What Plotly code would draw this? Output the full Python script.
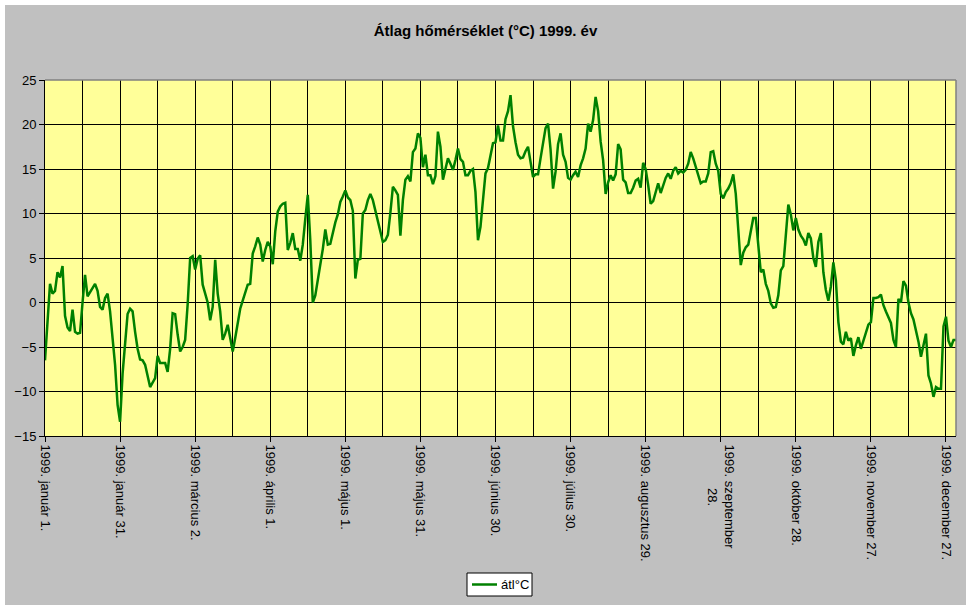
import plotly.graph_objects as go

title_text = "Átlag hőmérséklet (°C) 1999. év"
series_name = "átl°C"

# Daily mean temperatures, 1999
temps = [
    # Jan 1 - Feb 17 (days 0-47)
    -6.5, -2.2, 2.1, 1.0, 1.3, 3.4, 2.8, 4.1, -1.5, -2.8,
    -3.2, -0.8, -3.3, -3.5, -3.4, 0.0, 3.1, 0.7, 1.2, 1.7,
    2.1, 1.3, -0.5, -0.8, 0.5, 1.0, -1.0, -4.0, -7.0, -11.5,
    -13.4, -8.0, -4.5, -1.3, -0.7, -1.0, -3.3, -5.2, -6.4, -6.5,
    -7.0, -8.4, -9.5, -9.0, -8.5, -6.0, -6.8, -6.8,
    # days 48-89
    -6.8, -7.8, -5.2, -1.2, -1.3, -3.6, -5.5, -5.0, -4.2, -0.2,
    5.0, 5.2, 3.7, 4.9, 5.3, 2.0, 1.0, 0.0, -2.0, -0.5,
    4.8, 1.0, -1.0, -4.2, -3.5, -2.5, -4.0, -5.5, -4.0, -2.5,
    -0.7, 0.2, 1.0, 2.0, 2.1, 5.5, 6.3, 7.3, 6.5, 4.6,
    5.9, 6.8,
    # days 90-139
    6.3, 4.3, 8.0, 10.2, 10.8, 11.1, 11.2, 5.9, 6.7, 7.8,
    6.0, 6.0, 4.7, 6.5, 9.4, 12.1, 7.0, 0.0, 0.8, 2.5,
    3.8, 6.0, 8.2, 6.5, 6.6, 8.0, 9.0, 9.9, 11.3, 11.9,
    12.6, 11.8, 11.5, 10.3, 2.7, 4.8, 4.9, 10.0, 10.4, 11.5,
    12.2, 11.5, 10.4, 9.0, 7.9, 6.8, 7.0, 7.6, 10.1, 13.0,
    # days 140-185
    12.6, 12.1, 7.5, 11.5, 13.8, 14.2, 13.6, 16.9, 17.3, 19.0,
    18.5, 15.2, 16.6, 14.3, 14.3, 13.3, 14.2, 19.2, 17.5, 13.8,
    15.0, 16.2, 15.6, 14.9, 16.0, 17.3, 16.1, 15.8, 14.3, 14.3,
    14.8, 15.0, 12.4, 7.0, 8.5, 12.0, 14.5, 15.1, 16.6, 17.9,
    18.0, 19.9, 18.2, 18.2, 20.6, 21.5,
    # days 186-231
    23.3, 19.8, 18.0, 16.6, 16.2, 16.3, 17.0, 17.5, 15.8, 14.1,
    14.4, 14.4, 16.2, 17.8, 19.6, 20.1, 17.2, 12.8, 14.7, 17.8,
    19.0, 16.6, 15.8, 14.0, 13.8, 14.3, 14.7, 14.1, 15.4, 16.2,
    17.3, 20.1, 19.2, 20.5, 23.1, 21.5, 18.1, 16.0, 12.2, 13.5,
    14.3, 13.7, 14.4, 17.8, 17.2, 13.8,
    # days 232-277
    13.5, 12.3, 12.3, 12.9, 13.7, 13.9, 12.9, 15.7, 15.0, 13.2,
    11.1, 11.4, 12.5, 13.4, 12.3, 13.2, 14.0, 14.5, 13.9, 14.8,
    15.2, 14.5, 14.8, 14.6, 14.9, 15.6, 16.9, 16.2, 15.2, 14.2,
    13.4, 13.6, 13.6, 14.5, 16.9, 17.0, 15.6, 14.8, 12.2, 11.7,
    12.4, 12.8, 13.4, 14.4, 12.2, 8.2,
    # days 278-319
    4.2, 5.6, 6.2, 6.5, 8.1, 9.5, 9.5, 6.8, 3.4, 3.7,
    2.1, 1.3, -0.1, -0.6, -0.5, 0.8, 3.6, 4.1, 8.0, 11.0,
    9.9, 8.1, 9.5, 8.2, 7.5, 7.1, 6.4, 7.8, 7.2, 5.0,
    4.0, 6.8, 7.8, 3.4, 1.4, 0.2, 1.8, 4.5, 2.5, -2.2,
    -4.4, -4.7,
    # days 320-364
    -3.3, -4.3, -4.0, -6.0, -4.8, -3.9, -5.2, -4.3, -3.5, -2.5,
    -2.2, 0.5, 0.5, 0.6, 0.9, -0.3, -1.0, -1.6, -2.3, -4.2,
    -5.0, 0.4, 0.0, 2.4, 1.9, 0.0, -1.2, -1.9, -3.1, -4.4,
    -6.1, -4.7, -3.5, -8.2, -9.1, -10.6, -9.5, -9.7, -9.7, -2.7,
    -1.6, -4.3, -5.0, -4.2, -4.2,
]
days = list(range(len(temps)))

nb = "\u00a0"
tick_days = list(range(0, 365, 30))
tick_labels = [
    "1999. január 1.", "1999. január 31.", "1999. március 2.",
    "1999. április 1.", "1999. május 1.", "1999. május 31.",
    "1999. június 30.", "1999. július 30.", "1999. augusztus 29.",
    "1999. szeptember<br>" + nb * 12 + "28.", "1999. október 28.",
    "1999. november 27.", "1999. december 27.",
]
y_ticks = list(range(-15, 30, 5))

W, H = 971, 605
L, R, T, B = 45, 15, 80, 169
pw, ph = W - L - R, H - T - B


def px_x(p):
    return (p - L) / pw


def px_y(p):
    return (H - B - p) / ph


font = "Arial, 'Liberation Sans', sans-serif"
line_color = "#008000"

fig = go.Figure()
fig.add_trace(go.Scatter(
    x=days, y=temps, mode="lines", name=series_name,
    line=dict(color=line_color, width=2.5),
    showlegend=False,
))

shapes = [
    # gray border on top and right of plot area
    dict(type="line", xref="paper", yref="paper", x0=0, x1=1, y0=1, y1=1,
         line=dict(color="#808080", width=1.5), layer="above"),
    dict(type="line", xref="paper", yref="paper", x0=1, x1=1, y0=0, y1=1,
         line=dict(color="#808080", width=1.5), layer="above"),
    # white margins around chart area
    dict(type="rect", xref="paper", yref="paper", x0=px_x(-5), x1=px_x(W + 5),
         y0=px_y(5), y1=px_y(-5), fillcolor="white", line=dict(width=0), layer="above"),
    dict(type="rect", xref="paper", yref="paper", x0=px_x(-5), x1=px_x(5),
         y0=px_y(H + 5), y1=px_y(-5), fillcolor="white", line=dict(width=0), layer="above"),
    dict(type="rect", xref="paper", yref="paper", x0=px_x(966), x1=px_x(W + 5),
         y0=px_y(H + 5), y1=px_y(-5), fillcolor="white", line=dict(width=0), layer="above"),
    # legend box
    dict(type="rect", xref="paper", yref="paper", x0=px_x(467), x1=px_x(532),
         y0=px_y(596), y1=px_y(573), fillcolor="white",
         line=dict(color="black", width=1), layer="above"),
    dict(type="line", xref="paper", yref="paper", x0=px_x(472), x1=px_x(497),
         y0=px_y(584.5), y1=px_y(584.5),
         line=dict(color=line_color, width=2.5), layer="above"),
]

annotations = [
    dict(text=series_name, xref="paper", yref="paper", x=px_x(499), y=px_y(584.5),
         xanchor="left", yanchor="middle", showarrow=False,
         font=dict(family=font, size=13, color="black")),
]

fig.update_layout(
    width=W, height=H,
    margin=dict(l=L, r=R, t=T, b=B, pad=0, autoexpand=False),
    paper_bgcolor="#C0C0C0",
    plot_bgcolor="#FFFF99",
    showlegend=False,
    font=dict(family=font, size=13, color="black"),
    title=dict(text="<b>" + title_text + "</b>", x=0.5, xref="container",
               xanchor="center", y=1 - 31 / H, yanchor="middle",
               font=dict(family=font, size=15, color="black")),
    xaxis=dict(
        range=[0, len(temps) - 1], automargin=False,
        tickmode="array", tickvals=tick_days, ticktext=tick_labels,
        tickangle=90, ticks="outside", ticklen=5, tickcolor="black",
        showgrid=True, gridcolor="black", gridwidth=1,
        minor=dict(dtick=15, tick0=0, showgrid=True, gridcolor="black",
                   gridwidth=1, ticks=""),
        showline=True, linecolor="black", linewidth=1,
        zeroline=False, tickfont=dict(family=font, size=13, color="black"),
    ),
    yaxis=dict(
        range=[-15, 25], automargin=False, tickmode="array", tickvals=y_ticks,
        ticks="outside", ticklen=5, tickcolor="black",
        showgrid=True, gridcolor="black", gridwidth=1,
        showline=True, linecolor="black", linewidth=1,
        zeroline=False, tickfont=dict(family=font, size=13, color="black"),
    ),
    shapes=shapes,
    annotations=annotations,
)

fig.write_html("out.html")
